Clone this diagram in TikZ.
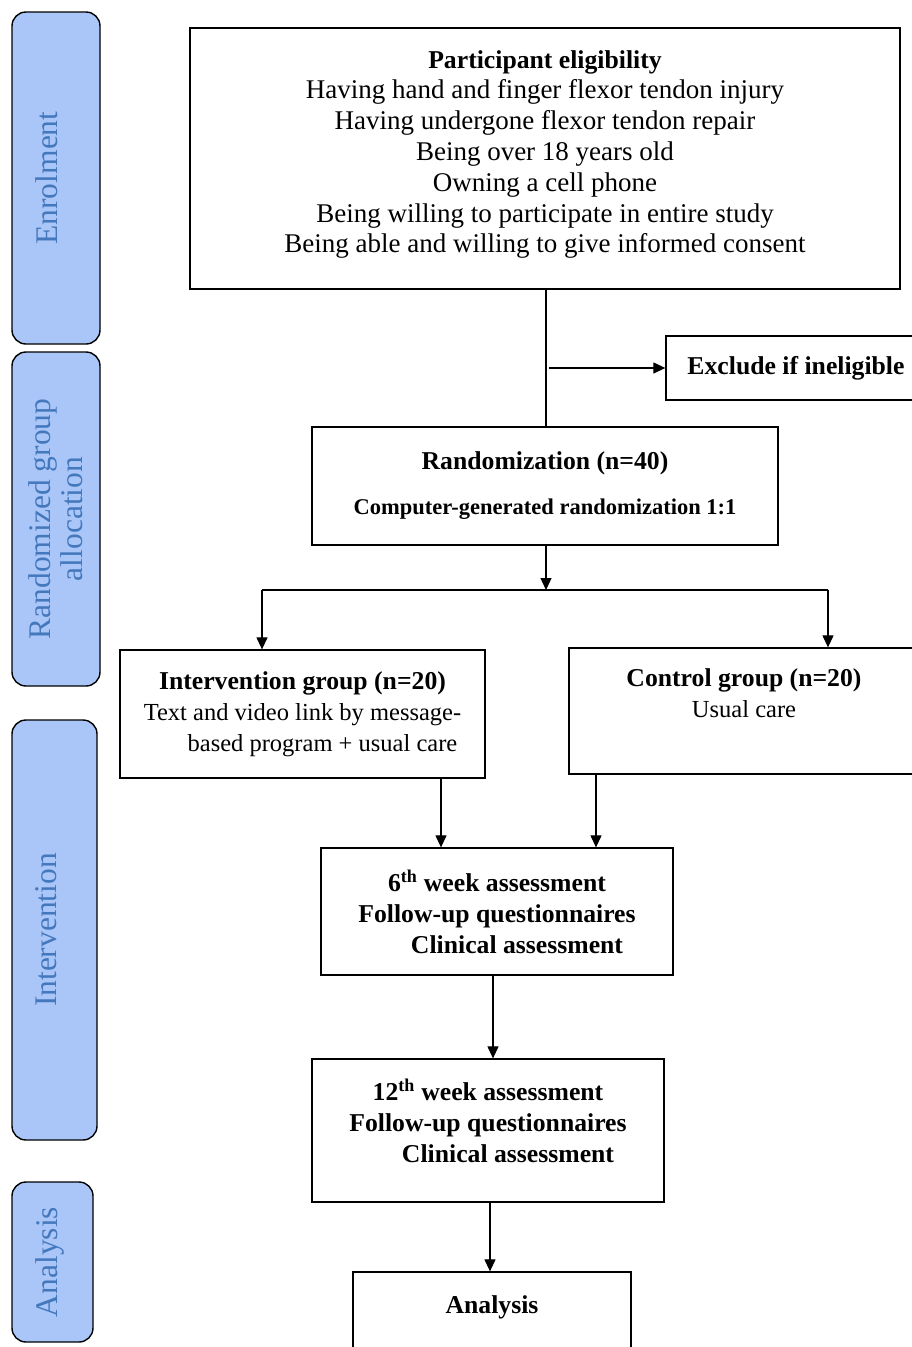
\documentclass[tikz,border=0pt]{standalone}
\usepackage{fontspec}
\setmainfont{Liberation Serif}
\usepackage{tikz}
\usetikzlibrary{arrows.meta}
\definecolor{stagefill}{HTML}{AAC6F8}
\definecolor{stagetext}{HTML}{4478BD}
\tikzset{
  stage/.style={draw=black, line width=1.4pt, fill=stagefill, rounded corners=14pt,
    rotate=90, text=stagetext, align=center, font=\fontsize{31.5}{32}\selectfont, inner sep=0pt},
  box/.style={draw=black, line width=1.3pt, align=center, inner sep=0pt,
    font=\fontsize{24.5}{31}\selectfont},
  head/.style={font=\fontsize{25.7}{31}\bfseries},
  flow/.style={line width=1.2pt, -{Triangle[length=12pt,width=11pt]}},
  plain/.style={line width=1.2pt},
}

\begin{document}
\begin{tikzpicture}[x=1pt, y=-1pt]
\useasboundingbox (0,0) rectangle (912,1347);

% stage labels on the left
\node[stage, minimum width=332pt, minimum height=88pt, text depth=18pt] (enrol) at (56,178) {Enrolment};
\node[stage, minimum width=334pt, minimum height=88pt] (alloc) at (56,519) {Randomized group\\allocation};
\node[stage, minimum width=420pt, minimum height=85pt, text depth=16pt] (interv) at (54.5,930) {Intervention};
\node[stage, minimum width=160pt, minimum height=81pt, text depth=12pt] (anal) at (52.5,1262) {Analysis};

% main flow
\node[box, minimum width=710pt, minimum height=261pt, text depth=14pt, font=\fontsize{27}{30.8}\selectfont] (elig) at (545,158.5)
  {{\fontsize{25.7}{30.8}\bfseries Participant eligibility}\\
   Having hand and finger flexor tendon injury\\
   Having undergone flexor tendon repair\\
   Being over 18 years old\\
   Owning a cell phone\\
   Being willing to participate in entire study\\
   Being able and willing to give informed consent};
\node[box, head, minimum width=260pt, minimum height=64pt] (excl) at (796,368)
  {Exclude if ineligible};
\node[box, minimum width=466pt, minimum height=118pt] (rand) at (545,486)
  {{\fontsize{25.7}{31}\bfseries Randomization (n=40)}\\[14pt]
   {\fontsize{22.5}{24}\bfseries Computer-generated randomization 1:1}};
\coordinate (split) at (546,590);

\node[box, minimum width=365pt, minimum height=128pt] (treat) at (302.5,714)
  {{\fontsize{25.7}{31}\bfseries Intervention group (n=20)}\\
   Text and video link by message-\\
   \hspace*{40pt}based program + usual care};
\node[box, minimum width=350pt, minimum height=126pt, text depth=36pt] (ctrl) at (744,711)
  {{\fontsize{25.7}{31}\bfseries Control group (n=20)}\\Usual care};

\node[box, head, minimum width=352pt, minimum height=127pt] (week6) at (497,911.5)
  {6\textsuperscript{th} week assessment\\
   Follow-up questionnaires\\
   \hspace*{40pt}Clinical assessment};
\node[box, head, minimum width=352pt, minimum height=143pt, text depth=20pt] (week12) at (488,1130.5)
  {12\textsuperscript{th} week assessment\\
   Follow-up questionnaires\\
   \hspace*{40pt}Clinical assessment};
\node[box, head, minimum width=278pt, minimum height=100pt, text depth=34pt] (final) at (492,1322)
  {Analysis};

% connectors
\draw[plain] (elig.south -| 546,0) -- (rand.north -| 546,0);
\draw[flow] (549,368) -- (excl.west);
\draw[flow] (rand.south -| split) -- (split);
\draw[plain] (split -| 262,0) -- (split -| 828,0);
\draw[flow] (split -| 262,0) -- (treat.north -| 262,0);
\draw[flow] (split -| 828,0) -- (ctrl.north -| 828,0);
\draw[flow] (treat.south -| 441,0) -- (week6.north -| 441,0);
\draw[flow] (ctrl.south -| 596,0) -- (week6.north -| 596,0);
\draw[flow] (week6.south -| 493,0) -- (week12.north -| 493,0);
\draw[flow] (week12.south -| 490,0) -- (final.north -| 490,0);
\end{tikzpicture}
\end{document}
